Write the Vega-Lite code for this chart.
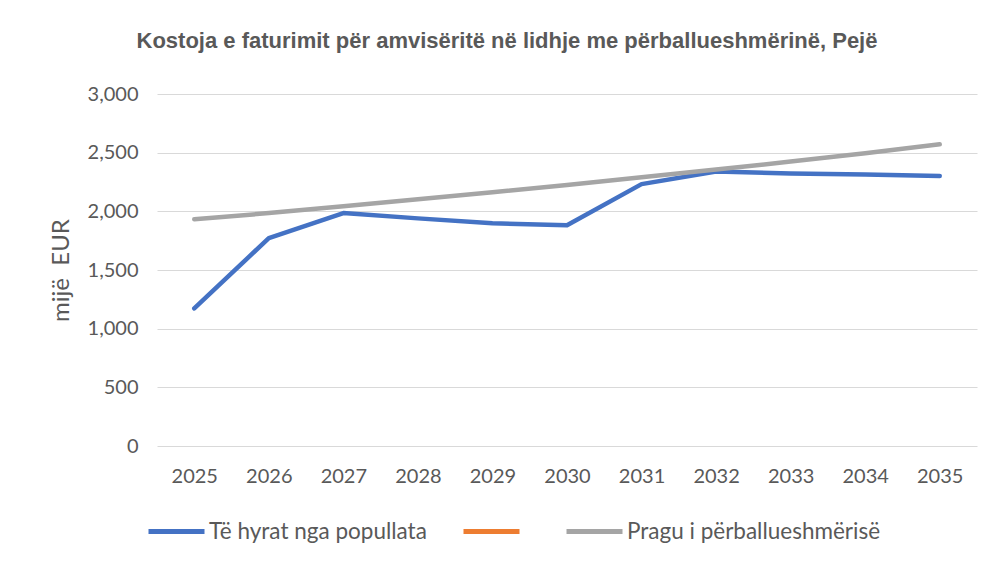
{
  "$schema": "https://vega.github.io/schema/vega-lite/v6.json",
  "width": 820,
  "height": 352,
  "autosize": {"type": "none"},
  "padding": {"left": 157, "top": 94, "right": 15, "bottom": 116},
  "background": "white",
  "title": {
    "text": "Kostoja e faturimit për amvisëritë në lidhje me përballueshmërinë, Pejë",
    "font": "Liberation Sans",
    "fontWeight": "bold",
    "fontSize": 22,
    "color": "#595959",
    "anchor": "middle",
    "dx": -60,
    "offset": 31
  },
  "data": {
    "values": [
      {"year": "2025", "series": "Të hyrat nga popullata", "value": 1172},
      {"year": "2026", "series": "Të hyrat nga popullata", "value": 1772},
      {"year": "2027", "series": "Të hyrat nga popullata", "value": 1985},
      {"year": "2028", "series": "Të hyrat nga popullata", "value": 1940},
      {"year": "2029", "series": "Të hyrat nga popullata", "value": 1898},
      {"year": "2030", "series": "Të hyrat nga popullata", "value": 1882},
      {"year": "2031", "series": "Të hyrat nga popullata", "value": 2232},
      {"year": "2032", "series": "Të hyrat nga popullata", "value": 2340},
      {"year": "2033", "series": "Të hyrat nga popullata", "value": 2322},
      {"year": "2034", "series": "Të hyrat nga popullata", "value": 2314},
      {"year": "2035", "series": "Të hyrat nga popullata", "value": 2302},
      {"year": "2025", "series": "Pragu i përballueshmërisë", "value": 1932},
      {"year": "2026", "series": "Pragu i përballueshmërisë", "value": 1985},
      {"year": "2027", "series": "Pragu i përballueshmërisë", "value": 2043},
      {"year": "2028", "series": "Pragu i përballueshmërisë", "value": 2102},
      {"year": "2029", "series": "Pragu i përballueshmërisë", "value": 2163},
      {"year": "2030", "series": "Pragu i përballueshmërisë", "value": 2225},
      {"year": "2031", "series": "Pragu i përballueshmërisë", "value": 2290},
      {"year": "2032", "series": "Pragu i përballueshmërisë", "value": 2356},
      {"year": "2033", "series": "Pragu i përballueshmërisë", "value": 2424},
      {"year": "2034", "series": "Pragu i përballueshmërisë", "value": 2495},
      {"year": "2035", "series": "Pragu i përballueshmërisë", "value": 2572}
    ]
  },
  "mark": {"type": "line", "strokeWidth": 4.5, "strokeCap": "round", "strokeJoin": "round"},
  "encoding": {
    "x": {
      "field": "year",
      "type": "ordinal",
      "scale": {"type": "point", "padding": 0.5},
      "axis": {
        "title": null,
        "labelAngle": 0,
        "ticks": false,
        "domain": false,
        "grid": false,
        "labelPadding": 20,
        "labelFont": "Lato",
        "labelFontSize": 20,
        "labelColor": "#595959"
      }
    },
    "y": {
      "field": "value",
      "type": "quantitative",
      "scale": {"domain": [0, 3000]},
      "axis": {
        "values": [0, 500, 1000, 1500, 2000, 2500, 3000],
        "format": ",d",
        "title": "mijë\u00a0\u00a0EUR",
        "titleFont": "Lato",
        "titleFontWeight": "normal",
        "titleFontSize": 24,
        "titleColor": "#595959",
        "titlePadding": 14,
        "ticks": false,
        "domain": false,
        "gridColor": "#d9d9d9",
        "gridWidth": 1,
        "labelPadding": 19,
        "labelFont": "Lato",
        "labelFontSize": 20,
        "labelColor": "#595959"
      }
    },
    "color": {
      "field": "series",
      "type": "nominal",
      "scale": {
        "domain": ["Të hyrat nga popullata", "\u200b", "Pragu i përballueshmërisë"],
        "range": ["#4472C4", "#ED7D31", "#A5A5A5"]
      },
      "legend": {
        "title": null,
        "orient": "none",
        "direction": "horizontal",
        "legendX": -11,
        "legendY": 407,
        "symbolType": "stroke",
        "symbolSize": 3136,
        "symbolStrokeWidth": 5,
        "labelFont": "Lato",
        "labelFontSize": 22.5,
        "labelColor": "#595959",
        "labelOffset": 2,
        "columnPadding": 26,
        "labelLimit": 400
      }
    }
  },
  "config": {"view": {"stroke": null}}
}
